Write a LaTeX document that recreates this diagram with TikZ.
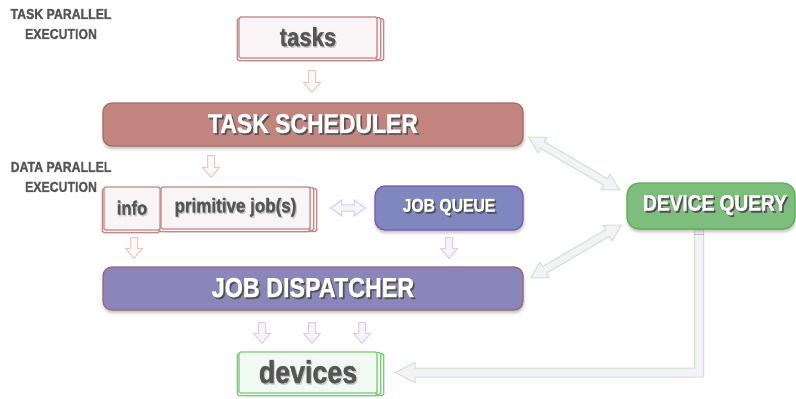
\documentclass[tikz,border=0pt]{standalone}
\usepackage{fontspec}
\setmainfont{Liberation Sans Bold}[FakeStretch=0.85, FakeBold=1.2]
\usetikzlibrary{calc,shadows.blur,backgrounds}
\definecolor{pinkln}{HTML}{C48886}
\definecolor{pinkbg}{HTML}{F9F4F6}
\definecolor{schedbg}{HTML}{C2847E}
\definecolor{schedln}{HTML}{A56C68}
\definecolor{jqbg}{HTML}{8087BF}
\definecolor{jqln}{HTML}{7A56B4}
\definecolor{dispbg}{HTML}{8A85BB}
\definecolor{displn}{HTML}{A2646C}
\definecolor{dqbg}{HTML}{7EBE7C}
\definecolor{dqln}{HTML}{58AD56}
\definecolor{devbg}{HTML}{F2F8F2}
\definecolor{devln}{HTML}{7DCA7B}
\definecolor{txtgray}{HTML}{555555}
\definecolor{parrowln}{HTML}{E6C6C6}
\definecolor{parrowbg}{HTML}{FCF7F8}
\definecolor{varrowln}{HTML}{D9CBEA}
\definecolor{varrowbg}{HTML}{F7F3FB}
\definecolor{garrowln}{HTML}{C9E5C7}
\definecolor{garrowbg}{HTML}{F4F2F8}
\newcommand{\wtxt}[1]{\rlap{\kern1.6pt\raisebox{-1.8pt}{\textcolor{black!68}{#1}}}\textcolor{white}{#1}}
\newcommand{\gtxt}[1]{\rlap{\kern1.2pt\raisebox{-1.5pt}{\textcolor{black!22}{#1}}}\textcolor{txtgray}{#1}}
% single block arrow: style, A, B, shaft half, head half, head length
\newcommand{\sarrow}[6]{%
  \coordinate (sa-h) at ($(#3)!#6!(#2)$);
  \path[#1] ($(#2)!#4!90:(#3)$) -- ($(sa-h)!#4!90:(#3)$) -- ($(sa-h)!#5!90:(#3)$) -- (#3)
    -- ($(sa-h)!#5!-90:(#3)$) -- ($(sa-h)!#4!-90:(#3)$) -- ($(#2)!#4!-90:(#3)$) -- cycle;}
% double block arrow
\newcommand{\darrow}[6]{%
  \coordinate (da-1) at ($(#2)!#6!(#3)$);
  \coordinate (da-2) at ($(#3)!#6!(#2)$);
  \path[#1] (#2) -- ($(da-1)!#5!90:(#3)$) -- ($(da-1)!#4!90:(#3)$) -- ($(da-2)!#4!90:(#3)$)
    -- ($(da-2)!#5!90:(#3)$) -- (#3) -- ($(da-2)!#5!-90:(#3)$) -- ($(da-2)!#4!-90:(#3)$)
    -- ($(da-1)!#4!-90:(#3)$) -- ($(da-1)!#5!-90:(#3)$) -- cycle;}
\begin{document}
\begin{tikzpicture}[x=1pt,y=-1pt,
  bigbox/.style={rounded corners=9pt, minimum width=420pt, minimum height=43pt, line width=1.2pt, inner sep=0pt,
    blur shadow={shadow xshift=0.5pt, shadow yshift=-2.5pt, shadow blur radius=3pt, shadow opacity=30}},
  stackbox/.style={rounded corners=1.5pt, line width=1.3pt, inner sep=0pt},
  sidelabel/.style={align=center, text=txtgray, font=\fontsize{14.5}{20}\selectfont},
  blk/.style={line width=1pt, line join=miter},
  parrow/.style={blk, draw=parrowln, fill=parrowbg},
  varrow/.style={blk, draw=varrowln, fill=varrowbg},
  garrow/.style={blk, draw=garrowln, fill=garrowbg}]
\useasboundingbox (0,0) rectangle (796,399);

% side labels
\node[sidelabel] (tpe) at (61,24) {TASK PARALLEL\\EXECUTION};
\node[sidelabel] (dpe) at (61,177) {DATA PARALLEL\\EXECUTION};

% tasks
\node[stackbox, draw=pinkln, fill=pinkbg, minimum width=138pt, minimum height=41pt,
  font=\fontsize{26}{28}\selectfont] (tasks) at (308,37.5) {\gtxt{tasks}};

% task scheduler
\node[bigbox, draw=schedln, fill=schedbg, font=\fontsize{27}{29}\selectfont] (sched) at (313,124.5) {\wtxt{TASK SCHEDULER}};

% info and primitive jobs
\node[stackbox, draw=pinkln, fill=pinkbg, minimum width=56pt, minimum height=43pt,
  font=\fontsize{19.5}{21}\selectfont] (info) at (132,208.5) {\gtxt{info}};
\node[stackbox, draw=pinkln, fill=pinkbg, minimum width=149pt, minimum height=42pt,
  font=\fontsize{20}{22}\selectfont] (prim) at (235.5,208) {\gtxt{primitive job(s)}};

% job queue
\node[bigbox, rounded corners=10pt, minimum width=148pt, minimum height=44pt, draw=jqln, fill=jqbg,
  font=\fontsize{18.5}{20}\selectfont] (jq) at (449,208) {\wtxt{JOB QUEUE}};

% job dispatcher
\node[bigbox, draw=displn, fill=dispbg, font=\fontsize{27.4}{29}\selectfont] (disp) at (313,288.5) {\wtxt{JOB DISPATCHER}};

% devices
\node[stackbox, draw=devln, fill=devbg, minimum width=138pt, minimum height=41pt,
  font=\fontsize{31.5}{33}\selectfont] (devices) at (308,372.5) {\gtxt{devices}};

% green L-shaped arrow (drawn before device query box)
\coordinate (lstart) at (699,229);
\coordinate (ltip) at (395,372.5);
\path[garrow] (ltip) -- ($(ltip)+(20,-10)$) -- ($(ltip)+(20,-4.5)$) -- ($(lstart |- ltip)+(-4.5,-4.5)$)
  -- ($(lstart)+(-4.5,0)$) -- ($(lstart)+(4.5,0)$) -- ($(lstart |- ltip)+(4.5,4.5)$)
  -- ($(ltip)+(20,4.5)$) -- ($(ltip)+(20,10)$) -- cycle;

% device query
\node[bigbox, rounded corners=12pt, minimum width=168pt, minimum height=46pt, draw=dqln, fill=dqbg,
  font=\fontsize{22.5}{24}\selectfont] (dq) at (711,206) {\kern8pt\wtxt{DEVICE QUERY}};

% stacks behind
\begin{pgfonlayer}{background}
  \foreach \d in {6,3} {
    \draw[stackbox, draw=pinkln, fill=pinkbg] ($(tasks.north west)+(\d,0.4*\d)$) rectangle ($(tasks.south east)+(\d,0.3*\d)$);
    \draw[stackbox, draw=pinkln, fill=pinkbg] ($(prim.north west)+(\d,0.4*\d)$) rectangle ($(prim.south east)+(\d,0.3*\d)$);
    \draw[stackbox, draw=devln, fill=devbg] ($(devices.north west)+(\d,0.4*\d)$) rectangle ($(devices.south east)+(\d,0.3*\d)$);
  }
  \draw[stackbox, draw=pinkln, fill=pinkbg] ($(tasks.north west)+(-1,2)$) rectangle ($(tasks.south east)+(-1,2)$);
  \draw[stackbox, draw=pinkln, fill=pinkbg] ($(info.north west)+(-1,2)$) rectangle ($(info.south east)+(-1,2)$);
  \draw[stackbox, draw=pinkln, fill=pinkbg] ($(prim.north west)+(-1,2)$) rectangle ($(prim.south east)+(-1,2)$);
  \draw[stackbox, draw=devln, fill=devbg] ($(devices.north west)+(-1,2)$) rectangle ($(devices.south east)+(-1,2)$);
\end{pgfonlayer}

% arrows
\coordinate (a1s) at ($(tasks.south)+(4,12)$);
\coordinate (a1e) at ($(sched.north)+(-1,-10)$);
\sarrow{parrow}{a1s}{a1e}{3.5pt}{8.5pt}{10pt}
\coordinate (a2s) at ($(sched.south)+(-102,9)$);
\coordinate (a2e) at ($(prim.north)+(-24.5,-9)$);
\sarrow{parrow}{a2s}{a2e}{3.5pt}{8.5pt}{10pt}
\coordinate (a3s) at ($(info.south)+(2,7)$);
\coordinate (a3e) at ($(disp.north)+(-179,-8)$);
\sarrow{parrow}{a3s}{a3e}{3.5pt}{8.5pt}{10pt}
\coordinate (a4s) at ($(jq.south)+(0,7)$);
\coordinate (a4e) at ($(disp.north)+(136,-8)$);
\sarrow{varrow}{a4s}{a4e}{3.5pt}{8.5pt}{10pt}
\foreach \dx [count=\i] in {-51,-1,49} {
  \coordinate (b\i s) at ($(disp.south)+(\dx,12)$);
  \coordinate (b\i e) at ($(devices.north)+(\dx+5,-8)$);
  \sarrow{varrow}{b\i s}{b\i e}{3.5pt}{8.5pt}{10pt}
}
\coordinate (h1) at ($(prim.east)+(20,0)$);
\coordinate (h2) at ($(jq.west)+(-9,0)$);
\darrow{varrow}{h1}{h2}{3.2pt}{8pt}{11pt}
\coordinate (g1s) at ($(sched.east)+(5,12.5)$);
\coordinate (g1e) at ($(dq.west)+(-7,-16)$);
\darrow{garrow}{g1s}{g1e}{3.8pt}{9pt}{16pt}
\coordinate (g2s) at ($(disp.east)+(7,-10.5)$);
\coordinate (g2e) at ($(dq.west)+(-5,19)$);
\darrow{garrow}{g2s}{g2e}{3.8pt}{9pt}{16pt}
\end{tikzpicture}
\end{document}
